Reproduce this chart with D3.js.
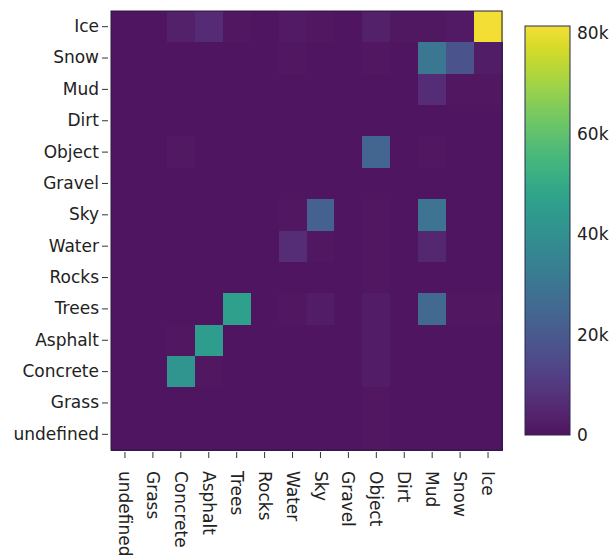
<!DOCTYPE html>
<html><head><meta charset="utf-8">
<script src="https://cdn.jsdelivr.net/npm/d3@7"></script>
<style>body{margin:0;background:#fff}svg{display:block}</style>
</head><body>
<svg id="c" width="613" height="557"></svg>
<script>
const xCats = ["undefined","Grass","Concrete","Asphalt","Trees","Rocks","Water","Sky","Gravel","Object","Dirt","Mud","Snow","Ice"];
const yCats = ["Ice","Snow","Mud","Dirt","Object","Gravel","Sky","Water","Rocks","Trees","Asphalt","Concrete","Grass","undefined"];
// rows follow yCats (top to bottom), columns follow xCats
const rowIce      = [600,500,3000,6000,800,600,1800,900,600,3000,1000,1200,1800,81500];
const rowSnow     = [500,400,600,500,500,400,800,600,500,900,600,30000,18000,2500];
const rowMud      = [400,400,500,400,400,400,500,500,400,600,400,6500,800,700];
const rowDirt     = [400,400,500,400,400,400,500,500,400,600,400,600,500,600];
const rowObject   = [400,400,1500,500,500,400,600,500,400,24000,400,700,500,600];
const rowGravel   = [400,400,500,400,400,400,500,500,400,600,400,600,500,600];
const rowSky      = [400,400,500,500,500,400,800,22000,400,800,400,29000,600,600];
const rowWater    = [400,400,500,500,500,400,6500,800,400,700,400,5000,600,600];
const rowRocks    = [400,400,500,500,500,400,500,500,400,700,400,600,500,600];
const rowTrees    = [400,400,600,600,46000,400,700,2000,400,2000,400,25000,700,700];
const rowAsphalt  = [400,400,700,45000,600,400,500,600,400,2000,400,600,500,600];
const rowConcrete = [400,400,42000,700,500,400,500,500,400,2000,400,600,500,600];
const rowGrass    = [400,400,600,500,500,400,500,500,400,800,400,600,500,600];
const rowUndef    = [400,400,500,500,500,400,500,500,400,700,400,600,500,600];
const rows = [rowIce,rowSnow,rowMud,rowDirt,rowObject,rowGravel,rowSky,rowWater,rowRocks,rowTrees,rowAsphalt,rowConcrete,rowGrass,rowUndef];
const cbTicks = [0,20000,40000,60000,80000];
const cbMax = 81500;

const svg = d3.select("#c");
const font = "DejaVu Sans, Verdana, sans-serif";
const L = 111, R = 502, T = 11, B = 450;
const x = d3.scaleBand().domain(xCats).range([L, R]);
const y = d3.scaleBand().domain(yCats).range([T, B]);
const interp = t => d3.interpolateRgb(d3.interpolateViridis(t), "#a8a0a8")(0.12);
const color = d3.scaleSequential(interp).domain([0, cbMax]);

const cells = [];
rows.forEach((r, i) => r.forEach((v, j) => cells.push({r: yCats[i], c: xCats[j], v})));
svg.append("g").attr("shape-rendering", "crispEdges").selectAll("rect").data(cells).join("rect")
  .attr("x", d => x(d.c)).attr("y", d => y(d.r))
  .attr("width", x.bandwidth() + 0.5).attr("height", y.bandwidth() + 0.5)
  .attr("fill", d => color(d.v));
svg.append("rect").attr("x", L).attr("y", T).attr("width", R - L).attr("height", B - T)
  .attr("fill", "none").attr("stroke", "#2a1a40").attr("stroke-width", 1);

const yAx = svg.append("g").attr("transform", `translate(${L - 3},0)`)
  .call(d3.axisLeft(y).tickSize(6).tickPadding(3));
yAx.select(".domain").remove();
yAx.selectAll("text").attr("font-family", font).attr("font-size", 17).attr("fill", "#222");
yAx.selectAll("line").attr("stroke", "#333");

const xAx = svg.append("g").attr("transform", `translate(0,${B + 2})`)
  .call(d3.axisBottom(x).tickSize(6).tickPadding(3));
xAx.select(".domain").remove();
xAx.selectAll("line").attr("stroke", "#333");
xAx.selectAll("text").attr("font-family", font).attr("font-size", 17).attr("fill", "#222")
  .attr("transform", "rotate(90)").attr("text-anchor", "start")
  .attr("x", 19).attr("y", 0).attr("dy", "0.35em");

// colorbar
const cbL = 525, cbW = 45, cbT = 26, cbB = 435;
const cy = d3.scaleLinear().domain([0, cbMax]).range([cbB, cbT]);
const defs = svg.append("defs");
const grad = defs.append("linearGradient").attr("id", "vg").attr("x1", 0).attr("y1", 1).attr("x2", 0).attr("y2", 0);
d3.range(0, 1.0001, 0.05).forEach(t => grad.append("stop").attr("offset", t).attr("stop-color", interp(t)));
svg.append("rect").attr("x", cbL).attr("y", cbT).attr("width", cbW).attr("height", cbB - cbT)
  .attr("fill", "url(#vg)").attr("stroke", "#2a2a50").attr("stroke-width", 1);
const cAx = svg.append("g").attr("transform", `translate(${cbL + cbW},0)`)
  .call(d3.axisRight(cy).tickValues(cbTicks).tickSize(0).tickPadding(7).tickFormat(d => d === 0 ? "0" : d3.format("~s")(d)));
cAx.select(".domain").remove();
cAx.selectAll("text").attr("font-family", font).attr("font-size", 17).attr("fill", "#222");
</script>
</body></html>
